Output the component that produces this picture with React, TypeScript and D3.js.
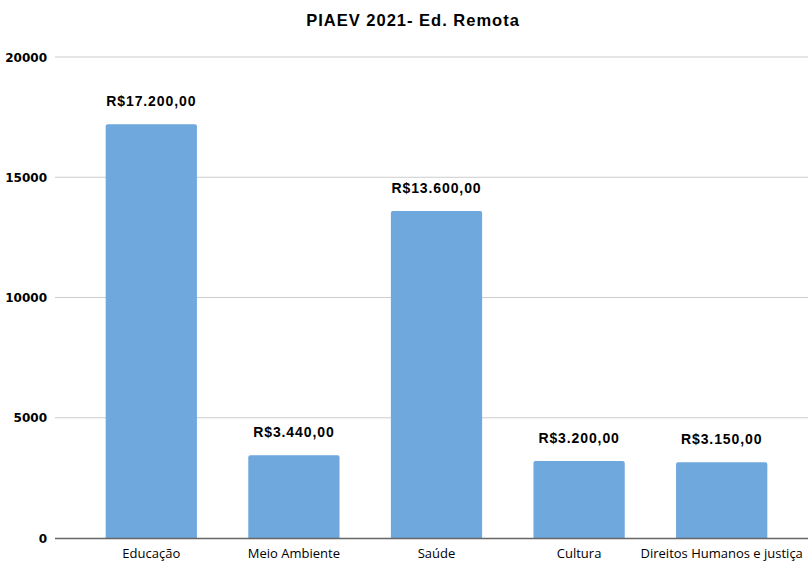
import React from "react";
import * as d3 from "d3";

const categories = ["Educação", "Meio Ambiente", "Saúde", "Cultura", "Direitos Humanos e justiça"];
const values = [17200, 3440, 13600, 3200, 3150];
const valueLabels = ["R$17.200,00", "R$3.440,00", "R$13.600,00", "R$3.200,00", "R$3.150,00"];
const yTicks = [0, 5000, 10000, 15000, 20000];
const title = "PIAEV 2021- Ed. Remota";

export default function App() {
  const W = 808, H = 561;
  const x = d3.scaleBand<string>().domain(categories).range([80, 793]).paddingInner(0.36).paddingOuter(0.18);
  const y = d3.scaleLinear().domain([0, 20000]).range([538, 57]);
  return (
    <svg width={W} height={H} style={{ position: "absolute", left: 0, top: 0, background: "#fff" }}>
      <text x={413} y={26} textAnchor="middle" fontFamily="Liberation Sans, Arial, sans-serif" fontWeight="bold" fontSize={16.5} letterSpacing={1} fill="#000">{title}</text>
      {yTicks.map((t) => (
        <g key={t}>
          {t !== 0 && <line x1={55} x2={808} y1={y(t)} y2={y(t)} stroke="#cccccc" strokeWidth={1} />}
          <text x={47} y={y(t) + 4.5} textAnchor="end" fontFamily="DejaVu Sans, sans-serif" fontWeight="bold" fontSize={12} fill="#000">{t}</text>
        </g>
      ))}
      {categories.map((c, i) => {
        const bx = x(c)!;
        const bw = x.bandwidth();
        const top = y(values[i]);
        return (
          <g key={c}>
            <path d={`M${bx},538 V${top + 2} Q${bx},${top} ${bx + 2},${top} H${bx + bw - 2} Q${bx + bw},${top} ${bx + bw},${top + 2} V538 Z`} fill="#6fa8dc" />
            <text x={bx + bw / 2} y={top - 18} textAnchor="middle" fontFamily="Liberation Sans, Arial, sans-serif" fontWeight="bold" fontSize={14} letterSpacing={0.9} fill="#000">{valueLabels[i]}</text>
            <text x={bx + bw / 2} y={558} textAnchor="middle" fontFamily="Open Sans, sans-serif" fontSize={13} fill="#000">{c}</text>
          </g>
        );
      })}
      <line x1={55} x2={808} y1={538.5} y2={538.5} stroke="#666" strokeWidth={1.5} />
    </svg>
  );
}
